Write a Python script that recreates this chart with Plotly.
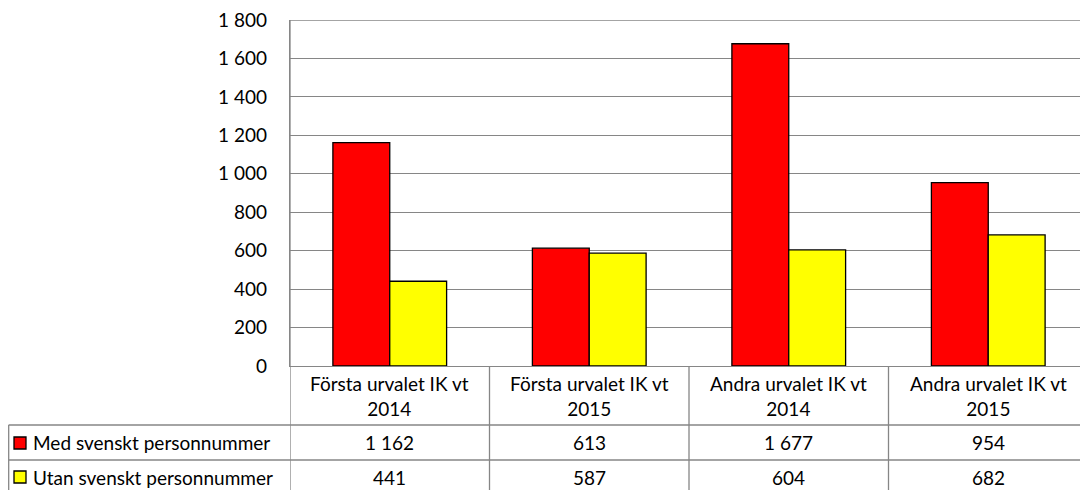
import plotly.graph_objects as go

categories = ["Första urvalet IK vt 2014", "Första urvalet IK vt 2015",
              "Andra urvalet IK vt 2014", "Andra urvalet IK vt 2015"]
header_lines = [["Första urvalet IK vt", "2014"], ["Första urvalet IK vt", "2015"],
                ["Andra urvalet IK vt", "2014"], ["Andra urvalet IK vt", "2015"]]
series_names = ["Med svenskt personnummer", "Utan svenskt personnummer"]
med_values = [1162, 613, 1677, 954]
utan_values = [441, 587, 604, 682]
colors = ["#FF0000", "#FFFF00"]
y_ticks = [0, 200, 400, 600, 800, 1000, 1200, 1400, 1600, 1800]

OFF = 8  # page body margin
W, H = 1088 - OFF, 490 - OFF
L, R, T = 290 - OFF, 0, 20 - OFF
B = H - (366 - OFF)
PW = W - L - R
PH = H - T - B
FONT = "Lato"
FS = 19
GRID = "#868686"


def px(x):
    # x in reference-page pixels -> paper
    return (x - OFF - L) / PW


def py(y):
    return (H - B - (y - OFF)) / PH


def fmt(v):
    return f"{v:,}".replace(",", " ")


xs = list(range(len(categories)))
fig = go.Figure()
for name, vals, col in zip(series_names, [med_values, utan_values], colors):
    fig.add_trace(go.Bar(x=xs, y=vals, name=name,
                         marker=dict(color=col, line=dict(color="black", width=1.3))))

shapes = []
annotations = []
row_tops = [366, 425, 460, 500]
for yy in row_tops[1:3]:
    shapes.append(dict(type="line", xref="paper", yref="paper", x0=px(8.6), x1=px(1100), y0=py(yy), y1=py(yy),
                       line=dict(color=GRID, width=1.3)))
shapes.append(dict(type="line", xref="paper", yref="paper", x0=px(8.7), x1=px(8.7), y0=py(425), y1=py(500),
                   line=dict(color=GRID, width=1.3)))
shapes.append(dict(type="line", xref="x", yref="paper", x0=-0.5, x1=-0.5, y0=1, y1=py(500),
                   line=dict(color=GRID, width=1.3)))
# top gridline at the maximum tick
shapes.append(dict(type="line", xref="paper", yref="y", x0=0, x1=1, y0=y_ticks[-1], y1=y_ticks[-1],
                   line=dict(color=GRID, width=1.3)))
for i in range(1, len(categories)):
    shapes.append(dict(type="line", xref="x", yref="paper", x0=i - 0.5, x1=i - 0.5, y0=0, y1=py(500),
                       line=dict(color=GRID, width=1.3)))

for i, lines in enumerate(header_lines):
    annotations.append(dict(x=i, xref="x", y=py(396), yref="paper", text="<br>".join(lines),
                            showarrow=False, font=dict(family=FONT, size=FS, color="black"),
                            align="center", yanchor="middle"))
row_mid = [443, 477]
for r, vals in enumerate([med_values, utan_values]):
    ymid = row_mid[r]
    for i, v in enumerate(vals):
        annotations.append(dict(x=i, xref="x", y=py(ymid), yref="paper", text=fmt(v), showarrow=False,
                                font=dict(family=FONT, size=FS, color="black"), yanchor="middle"))
    shapes.append(dict(type="rect", xref="paper", yref="paper", x0=px(14), x1=px(26),
                       y0=py(ymid - 6), y1=py(ymid + 6), fillcolor=colors[r],
                       line=dict(color="black", width=1.3)))
    annotations.append(dict(x=px(31), xref="paper", y=py(ymid), yref="paper", text=series_names[r],
                            showarrow=False, xanchor="left", yanchor="middle",
                            font=dict(family=FONT, size=FS, color="black")))

fig.update_layout(
    width=W, height=H,
    margin=dict(l=L, r=R, t=T, b=B),
    paper_bgcolor="white", plot_bgcolor="white",
    barmode="group", bargap=0.43, bargroupgap=0,
    showlegend=False,
    font=dict(family=FONT, size=FS, color="black"),
    shapes=shapes, annotations=annotations,
)
fig.update_xaxes(range=[-0.5, 3.5], showticklabels=False, showgrid=False, zeroline=False,
                 showline=True, linecolor=GRID, linewidth=1.3, ticks="")
fig.update_yaxes(range=[0, 1800.5], tickvals=y_ticks, ticktext=[fmt(v) for v in y_ticks],
                 showgrid=True, gridcolor=GRID, gridwidth=1.3, zeroline=False,
                 showline=True, linecolor=GRID, linewidth=1.3, ticks="", ticklabelstandoff=18,
                 ticklabeloverflow="allow",
                 tickfont=dict(family=FONT, size=FS, color="black"))

fig.write_html("out.html")
